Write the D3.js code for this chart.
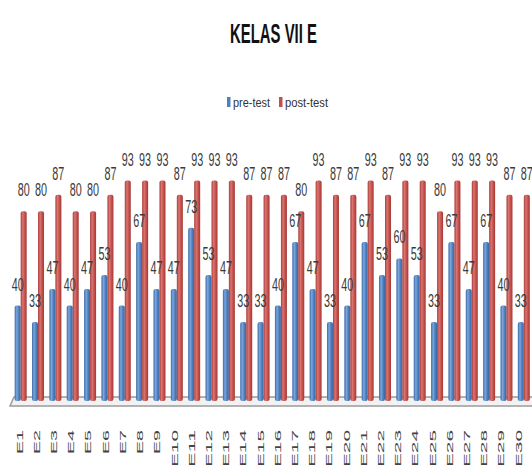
<!DOCTYPE html>
<html><head><meta charset="utf-8">
<script src="https://cdn.jsdelivr.net/npm/d3@7"></script>
<style>html,body{margin:0;padding:0;background:#fff;overflow:hidden}</style>
</head><body><svg id="c" width="532" height="465"></svg>
<script>
const categories = ["E1","E2","E3","E4","E5","E6","E7","E8","E9","E10","E11","E12","E13","E14","E15","E16","E17","E18","E19","E20","E21","E22","E23","E24","E25","E26","E27","E28","E29","E30"];
const preTest  = [40,33,47,40,47,53,40,67,47,47,73,53,47,33,33,40,67,47,33,40,67,53,60,53,33,67,47,67,40,33];
const postTest = [80,80,87,80,80,87,93,93,93,87,93,93,93,87,87,87,80,93,87,87,93,87,93,93,80,93,93,93,87,87];
const seriesNames = ["pre-test","post-test"];
const title = "KELAS VII E";

const svg = d3.select("#c");
const W = 532, H = 465;
const colors = {"pre-test":"#4f81bd","post-test":"#c0504d"};

const defs = svg.append("defs");
const grads = {
  "pre-test": ["#3b69a6","#7aa6dc","#4a7cbc","#3a67a3"],
  "post-test": ["#a53c39","#dc7470","#c24e4a","#a23936"]
};
seriesNames.forEach((s,k)=>{
  const g = defs.append("linearGradient").attr("id","g"+k).attr("x1","0").attr("x2","1").attr("y1","0").attr("y2","0");
  grads[s].forEach((c,i)=>g.append("stop").attr("offset",[0,0.35,0.7,1][i]).attr("stop-color",c));
});

const x = d3.scaleBand().domain(categories).range([12, 12 + 30*17.35]).padding(0);
const x1 = d3.scaleBand().domain(seriesNames).range([0, x.bandwidth()]).paddingInner(0).paddingOuter(0.445);
const y = d3.scaleLinear().domain([0,100]).range([400, 164]);
const xl = d3.scalePoint().domain(categories).range([19, 518]);

// title
svg.append("text").attr("x", 273.5).attr("y", 43).attr("text-anchor","middle")
  .attr("font-family","Liberation Sans Narrow, Liberation Sans, sans-serif").attr("font-weight","bold")
  .attr("font-size", 28).attr("textLength", 87).attr("lengthAdjust","spacingAndGlyphs")
  .attr("fill","#111").text(title);

// legend
const legendX = [227, 279], legendW = [37, 43];
seriesNames.forEach((s,k)=>{
  const g = svg.append("g").attr("transform",`translate(${legendX[k]},97)`);
  g.append("rect").attr("width",3.5).attr("height",10).attr("fill",colors[s]);
  g.append("text").attr("x",6).attr("y",9.5).attr("font-family","Liberation Sans Narrow, Liberation Sans, sans-serif")
    .attr("font-size",13).attr("fill","#333").attr("textLength",legendW[k]).attr("lengthAdjust","spacingAndGlyphs").text(s);
});

// floor
const y0 = y(0);
svg.append("polygon")
  .attr("points", [[14,y0-3],[W+2,y0-3],[W+2,y0+6],[10,y0+6]].map(p=>p.join(",")).join(" "))
  .attr("fill","#f2f2f2").attr("stroke","#9a9a9a").attr("stroke-width",1.5);

// bars
const rows = categories.map((c,i)=>({cat:c, vals:[{s:"pre-test",v:preTest[i]},{s:"post-test",v:postTest[i]}]}));
const grp = svg.append("g").selectAll("g").data(rows).join("g").attr("transform",d=>`translate(${x(d.cat)},0)`);
grp.selectAll("rect").data(d=>d.vals).join("rect")
  .attr("x",d=>x1(d.s)).attr("width",x1.bandwidth())
  .attr("y",d=>y(d.v)).attr("height",d=>y0 - y(d.v)+1)
  .attr("rx",2).attr("fill",d=>"url(#g"+seriesNames.indexOf(d.s)+")");
grp.selectAll("text").data(d=>d.vals).join("text")
  .attr("x",d=>x1(d.s)+x1.bandwidth()/2).attr("y",d=>y(d.v)-15)
  .attr("text-anchor","middle").attr("font-family","Liberation Sans Narrow, Liberation Sans, sans-serif")
  .attr("font-size",18).attr("fill","#3a3a3a").attr("textLength",12).attr("lengthAdjust","spacingAndGlyphs")
  .text(d=>d.v);

// x-axis labels
const ax = svg.append("g").attr("transform",`translate(0,430)`)
  .call(d3.axisBottom(xl).tickSize(0).tickPadding(0));
ax.select(".domain").remove();
ax.selectAll("text")
  .attr("transform","rotate(-90)").attr("x",0).attr("y",0).attr("dy","0.35em")
  .attr("text-anchor","end").attr("font-family","Liberation Sans, sans-serif").attr("font-size",9)
  .attr("fill","#444")
  .each(function(d){ d3.select(this).attr("textLength", d.length===2 ? 24 : 37).attr("lengthAdjust","spacingAndGlyphs"); });
</script></body></html>
